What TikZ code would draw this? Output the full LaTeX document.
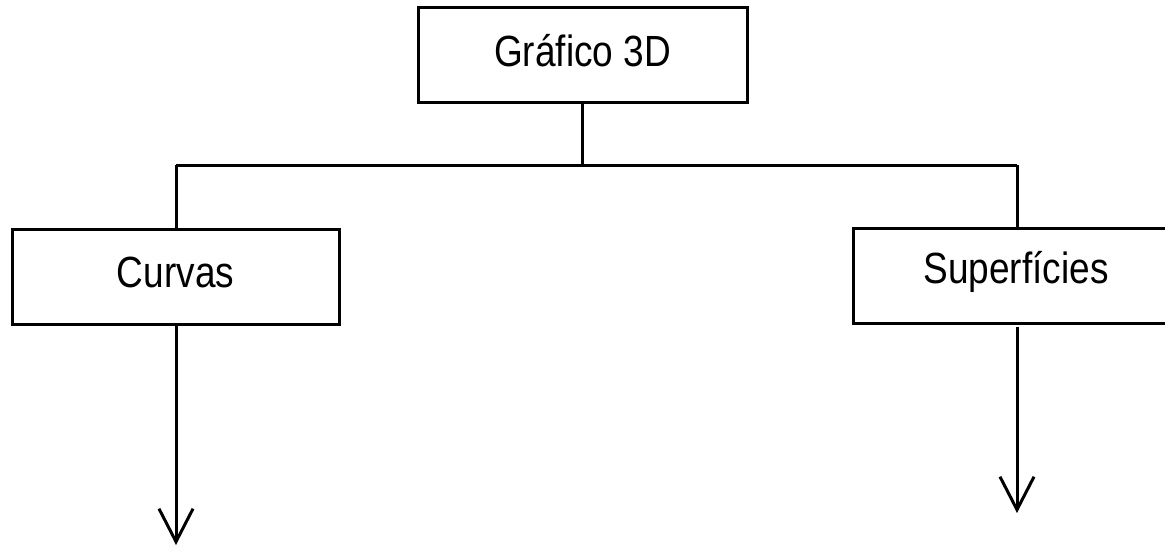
\documentclass[tikz,border=0pt]{standalone}
\usepackage{fontspec}
\setmainfont{Liberation Sans}
\usetikzlibrary{arrows.meta}
\tikzset{
  x=1pt, y=-1pt,
  box/.style={draw, line width=3pt, inner sep=0pt, minimum height=95pt,
              font=\fontsize{37}{40}\selectfont},
  link/.style={line width=3pt},
  down/.style={line width=3pt, -{Straight Barb[length=33pt, width=34pt, line width=3pt]}}
}
% labels are set slightly tall and sit a little above the box centre
\newcommand{\tallText}[1]{\raisebox{4pt}[\height][\depth]{\scalebox{1}[1.18]{#1}}}
\begin{document}
\begin{tikzpicture}
  \useasboundingbox[fill=white] (0,0) rectangle (1165,547);
  % boxes
  \node[box, minimum width=329pt] (top) at (582.5,54.5) {\tallText{Gráfico 3D}};
  \node[box, minimum width=327pt] (curvas) at (175.5,276.5) {\tallText{Curvas}};
  \node[box, minimum width=326pt] (sup) at (1016,276) {\tallText{Superfícies}};
  % branch junction
  \coordinate (j) at (582,165);
  \coordinate (jl) at (176,165);
  \coordinate (jr) at (1017,165);
  \coordinate (endl) at (176,545);
  \coordinate (endr) at (1017,513);
  \draw[link] (top.south -| j) -- (j);
  \draw[link] (jl) -- (jr);
  \draw[link] (jl) -- (curvas.north -| jl);
  \draw[link] (jr) -- (sup.north -| jr);
  % arrows going down
  \draw[down] (curvas.south -| endl) -- (endl);
  \draw[down] ([yshift=-2pt]sup.south -| endr) -- (endr);
\end{tikzpicture}
\end{document}
